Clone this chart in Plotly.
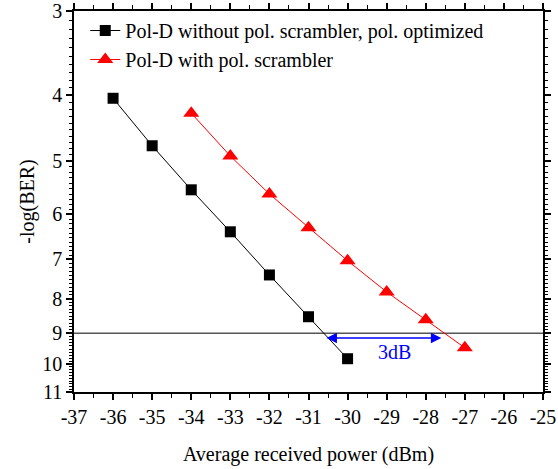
import numpy as np
import plotly.graph_objects as go

# Data
power_nos = [-36, -35, -34, -33, -32, -31, -30]
ber_nos = [4.04, 4.75, 5.52, 6.37, 7.38, 8.51, 9.82]
power_scr = [-34, -33, -32, -31, -30, -29, -28, -27]
ber_scr = [4.25, 4.92, 5.60, 6.28, 7.03, 7.82, 8.60, 9.46]
name_nos = "Pol-D without pol. scrambler, pol. optimized"
name_scr = "Pol-D with pol. scrambler"
threshold_x = [-37, -25]
threshold_y = [9, 9]
x_ticks = list(range(-37, -24))
y_ticks = [3, 4, 5, 6, 7, 8, 9, 10, 11]
y_minor = [round(3 + 0.1 * i, 1) for i in range(81)]
x_minor = [-36.5 + i for i in range(12)]
arrow_from = -30.58
arrow_to = -27.6
arrow_level = 9.15
label_text = "3dB"
label_x = -28.8
label_y = 9.6

FONT = "Liberation Serif"

fig = go.Figure()
fig.add_trace(go.Scatter(x=threshold_x, y=threshold_y, mode="lines",
                         line=dict(color="black", width=1), showlegend=False,
                         hoverinfo="skip"))
fig.add_trace(go.Scatter(x=power_nos, y=ber_nos, mode="lines+markers", name=name_nos,
                         line=dict(color="black", width=1),
                         marker=dict(symbol="square", size=11, color="black")))
fig.add_trace(go.Scatter(x=power_scr, y=ber_scr, mode="lines+markers", name=name_scr,
                         line=dict(color="red", width=1),
                         marker=dict(symbol="triangle-up", size=14, color="red")))

fig.add_annotation(x=arrow_to, y=np.log10(arrow_level), ax=arrow_from, ay=np.log10(arrow_level),
                   xref="x", yref="y", axref="x", ayref="y", text="", showarrow=True,
                   arrowhead=2, startarrowhead=2, arrowside="end+start",
                   arrowsize=1.4, startarrowsize=1.4, arrowwidth=1.5, arrowcolor="blue")
fig.add_annotation(x=label_x, y=np.log10(label_y), xref="x", yref="y", text=label_text,
                   showarrow=False, font=dict(family=FONT, size=20, color="blue"))

fig.update_layout(
    width=558, height=469,
    margin=dict(l=74, r=15, t=11, b=77, autoexpand=False),
    paper_bgcolor="white", plot_bgcolor="white",
    font=dict(family=FONT, size=20, color="black"),
    legend=dict(x=0.024, y=1.0, xanchor="left", yanchor="top", bgcolor="rgba(0,0,0,0)",
                font=dict(family=FONT, size=20), tracegroupgap=0),
    xaxis=dict(range=[-37, -25], tickmode="array", tickvals=x_ticks,
               ticktext=[str(v) for v in x_ticks], automargin=False,
               ticks="outside", ticklen=6, tickwidth=1.5, tickcolor="black",
               showline=True, linecolor="black", linewidth=1.5, mirror="ticks",
               showgrid=False, zeroline=False,
               minor=dict(tickmode="array", tickvals=x_minor, ticks="outside", ticklen=4,
                          tickwidth=1, tickcolor="black"),
               title=dict(text="Average received power (dBm)", font=dict(size=20), standoff=20)),
    yaxis=dict(type="log", range=[np.log10(11), np.log10(3)], tickmode="array",
               tickvals=y_ticks, ticktext=[str(v) for v in y_ticks], automargin=False,
               ticks="outside", ticklen=6, tickwidth=1.5, tickcolor="black",
               showline=True, linecolor="black", linewidth=1.5, mirror="ticks",
               showgrid=False, zeroline=False,
               minor=dict(tickmode="array", tickvals=y_minor, ticks="outside", ticklen=3,
                          tickwidth=1, tickcolor="black"),
               title=dict(text="-log(BER)", font=dict(size=20), standoff=2)),
)

fig.write_html("out.html", config={"displayModeBar": False},
               post_script="document.body.style.margin='0px';")
